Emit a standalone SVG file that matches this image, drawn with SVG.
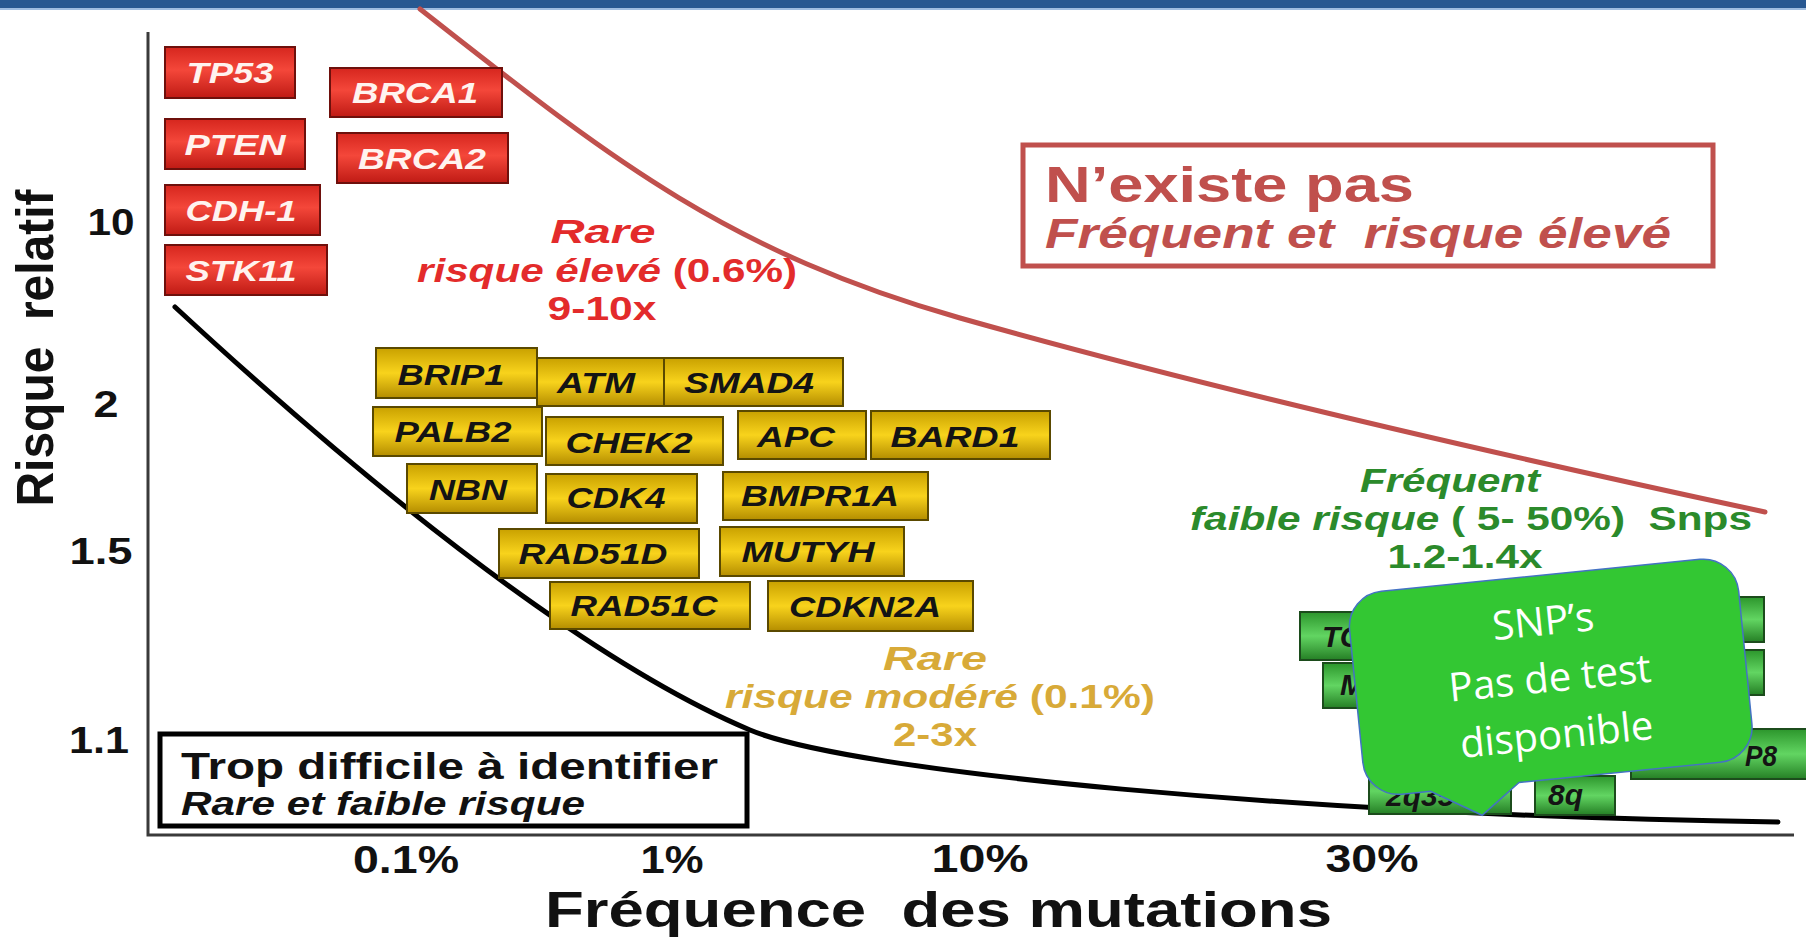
<svg xmlns="http://www.w3.org/2000/svg" width="1806" height="937" viewBox="0 0 1806 937">
  <defs>
    <linearGradient id="gRed" x1="0" y1="0" x2="0" y2="1">
      <stop offset="0" stop-color="#d6261e"/>
      <stop offset="0.45" stop-color="#f4473a"/>
      <stop offset="1" stop-color="#bf1a14"/>
    </linearGradient>
    <linearGradient id="gGold" x1="0" y1="0" x2="0" y2="1">
      <stop offset="0" stop-color="#c9a100"/>
      <stop offset="0.5" stop-color="#f8d31c"/>
      <stop offset="1" stop-color="#b48d00"/>
    </linearGradient>
    <linearGradient id="gGreen" x1="0" y1="0" x2="0" y2="1">
      <stop offset="0" stop-color="#2c962c"/>
      <stop offset="0.5" stop-color="#62d562"/>
      <stop offset="1" stop-color="#257f25"/>
    </linearGradient>
    <style>
      text { font-family: "Liberation Sans", Arial, sans-serif; font-weight: bold; }
      .gene text { font-size: 30px; font-style: italic; text-anchor: middle; }
      .red rect { fill: url(#gRed); stroke: #6e100c; stroke-width: 2; }
      .red text { fill: #fff3ef; }
      .gold rect { fill: url(#gGold); stroke: #5a4900; stroke-width: 2; }
      .gold text { fill: #141414; }
      .green rect { fill: url(#gGreen); stroke: #1c4c1c; stroke-width: 2; }
      .green text { fill: #141414; text-anchor: start; }
      .tick { font-size: 36px; fill: #111; text-anchor: middle; }
      .xtick { font-size: 38px; fill: #111; text-anchor: middle; }
      .zone { font-size: 33px; text-anchor: middle; }
      .it { font-style: italic; }
      .co { font-family: "Open Sans", "Noto Sans", sans-serif; font-weight: normal; font-size: 40px; fill: #ffffff; text-anchor: middle; }
    </style>
  </defs>

  <rect x="0" y="0" width="1806" height="937" fill="#ffffff"/>

  <!-- title bar -->
  <rect x="0" y="0" width="1806" height="8" fill="#285891"/>
  <rect x="0" y="8" width="1806" height="2" fill="#9fbde0"/>

  <!-- axes -->
  <g id="axes">
    <path d="M148,32 V835 H1794" fill="none" stroke="#3a3a3a" stroke-width="3"/>
    <text transform="translate(53,348) rotate(-90)" text-anchor="middle" font-size="52" fill="#111" textLength="317" lengthAdjust="spacingAndGlyphs" xml:space="preserve">Risque  relatif</text>
    <text class="tick" x="111" y="235" textLength="47" lengthAdjust="spacingAndGlyphs">10</text>
    <text class="tick" x="106" y="417" textLength="25" lengthAdjust="spacingAndGlyphs">2</text>
    <text class="tick" x="101" y="564" textLength="63" lengthAdjust="spacingAndGlyphs">1.5</text>
    <text class="tick" x="99" y="753" textLength="60" lengthAdjust="spacingAndGlyphs">1.1</text>
    <text class="xtick" x="406" y="873" textLength="106" lengthAdjust="spacingAndGlyphs">0.1%</text>
    <text class="xtick" x="672" y="873" textLength="63" lengthAdjust="spacingAndGlyphs">1%</text>
    <text class="xtick" x="980" y="872" textLength="97" lengthAdjust="spacingAndGlyphs">10%</text>
    <text class="xtick" x="1372" y="872" textLength="93" lengthAdjust="spacingAndGlyphs">30%</text>
    <text x="545" y="927" font-size="50" fill="#111" textLength="787" lengthAdjust="spacingAndGlyphs" xml:space="preserve">Fréquence  des mutations</text>
  </g>

  <!-- boundary curves -->
  <g id="curves" fill="none" stroke-linecap="round">
    <path id="upper-limit" d="M420,9 C600,150 720,250 960,318 C1200,386 1500,455 1765,512" stroke="#c0504d" stroke-width="5"/>
    <path id="lower-limit" d="M175,307 C470,580 650,688 750,730 C850,772 1300,815 1778,822" stroke="#000000" stroke-width="5"/>
  </g>

  <!-- high-risk genes -->
  <g id="tp53" class="gene red"><rect x="165" y="47" width="130" height="51"/><text x="230" y="83" textLength="87" lengthAdjust="spacingAndGlyphs">TP53</text></g>
  <g id="brca1" class="gene red"><rect x="330" y="68" width="172" height="49"/><text x="415" y="103" textLength="126" lengthAdjust="spacingAndGlyphs">BRCA1</text></g>
  <g id="pten" class="gene red"><rect x="165" y="119" width="140" height="50"/><text x="235" y="155" textLength="101" lengthAdjust="spacingAndGlyphs">PTEN</text></g>
  <g id="brca2" class="gene red"><rect x="337" y="133" width="171" height="50"/><text x="422" y="169" textLength="128" lengthAdjust="spacingAndGlyphs">BRCA2</text></g>
  <g id="cdh1" class="gene red"><rect x="165" y="185" width="155" height="50"/><text x="241" y="221" textLength="111" lengthAdjust="spacingAndGlyphs">CDH-1</text></g>
  <g id="stk11" class="gene red"><rect x="165" y="245" width="162" height="50"/><text x="241" y="281" textLength="111" lengthAdjust="spacingAndGlyphs">STK11</text></g>

  <!-- moderate-risk genes -->
  <g id="brip1" class="gene gold"><rect x="376" y="348" width="161" height="50"/><text x="451" y="385" textLength="107" lengthAdjust="spacingAndGlyphs">BRIP1</text></g>
  <g id="atm" class="gene gold"><rect x="537" y="358" width="127" height="48"/><text x="596" y="393" textLength="78" lengthAdjust="spacingAndGlyphs">ATM</text></g>
  <g id="smad4" class="gene gold"><rect x="664" y="358" width="179" height="48"/><text x="749" y="393" textLength="130" lengthAdjust="spacingAndGlyphs">SMAD4</text></g>
  <g id="palb2" class="gene gold"><rect x="373" y="407" width="169" height="49"/><text x="453" y="442" textLength="117" lengthAdjust="spacingAndGlyphs">PALB2</text></g>
  <g id="chek2" class="gene gold"><rect x="546" y="417" width="177" height="48"/><text x="629" y="453" textLength="127" lengthAdjust="spacingAndGlyphs">CHEK2</text></g>
  <g id="apc" class="gene gold"><rect x="738" y="411" width="128" height="48"/><text x="796" y="447" textLength="78" lengthAdjust="spacingAndGlyphs">APC</text></g>
  <g id="bard1" class="gene gold"><rect x="871" y="411" width="179" height="48"/><text x="955" y="447" textLength="129" lengthAdjust="spacingAndGlyphs">BARD1</text></g>
  <g id="nbn" class="gene gold"><rect x="407" y="464" width="130" height="49"/><text x="468" y="500" textLength="78" lengthAdjust="spacingAndGlyphs">NBN</text></g>
  <g id="cdk4" class="gene gold"><rect x="546" y="474" width="151" height="49"/><text x="616" y="508" textLength="99" lengthAdjust="spacingAndGlyphs">CDK4</text></g>
  <g id="bmpr1a" class="gene gold"><rect x="723" y="472" width="205" height="48"/><text x="820" y="506" textLength="158" lengthAdjust="spacingAndGlyphs">BMPR1A</text></g>
  <g id="rad51d" class="gene gold"><rect x="499" y="529" width="200" height="49"/><text x="593" y="564" textLength="149" lengthAdjust="spacingAndGlyphs">RAD51D</text></g>
  <g id="mutyh" class="gene gold"><rect x="720" y="527" width="184" height="49"/><text x="808" y="562" textLength="133" lengthAdjust="spacingAndGlyphs">MUTYH</text></g>
  <g id="rad51c" class="gene gold"><rect x="550" y="582" width="200" height="47"/><text x="644" y="616" textLength="147" lengthAdjust="spacingAndGlyphs">RAD51C</text></g>
  <g id="cdkn2a" class="gene gold"><rect x="768" y="581" width="205" height="50"/><text x="865" y="617" textLength="152" lengthAdjust="spacingAndGlyphs">CDKN2A</text></g>

  <!-- low-risk loci -->
  <g id="snp-a" class="gene green"><rect x="1300" y="612" width="120" height="48"/><text x="1322" y="647">TO</text></g>
  <g id="snp-b" class="gene green"><rect x="1323" y="663" width="110" height="45"/><text x="1340" y="695">M</text></g>
  <g id="snp-c" class="gene green"><rect x="1650" y="597" width="114" height="45"/></g>
  <g id="snp-d" class="gene green"><rect x="1650" y="650" width="114" height="45"/></g>
  <g id="snp-e" class="gene green"><rect x="1631" y="729" width="180" height="50"/><text x="1745" y="766" textLength="32" lengthAdjust="spacingAndGlyphs">P8</text></g>
  <g id="snp-f" class="gene green"><rect x="1369" y="768" width="142" height="46"/><text x="1386" y="806">2q35</text></g>
  <g id="snp-g" class="gene green"><rect x="1535" y="776" width="80" height="39"/><text x="1548" y="805">8q</text></g>

  <!-- zone labels -->
  <g id="zone-high" class="zone" fill="#e32b2b">
    <text class="it" x="603" y="243" textLength="105" lengthAdjust="spacingAndGlyphs">Rare</text>
    <text x="607" y="282" textLength="380" lengthAdjust="spacingAndGlyphs"><tspan class="it">risque élevé</tspan> (0.6%)</text>
    <text x="602" y="320" textLength="109" lengthAdjust="spacingAndGlyphs">9-10x</text>
  </g>
  <g id="zone-moderate" class="zone" fill="#d8aa38">
    <text class="it" x="935" y="670" textLength="104" lengthAdjust="spacingAndGlyphs">Rare</text>
    <text x="940" y="708" textLength="430" lengthAdjust="spacingAndGlyphs"><tspan class="it">risque modéré</tspan> (0.1%)</text>
    <text x="935" y="746" textLength="84" lengthAdjust="spacingAndGlyphs">2-3x</text>
  </g>
  <g id="zone-frequent" class="zone" fill="#2b8a2b">
    <text class="it" x="1450" y="492" textLength="180" lengthAdjust="spacingAndGlyphs">Fréquent</text>
    <text x="1471" y="530" textLength="562" lengthAdjust="spacingAndGlyphs" xml:space="preserve"><tspan class="it">faible risque</tspan> ( 5- 50%)  Snps</text>
    <text x="1465" y="568" textLength="155" lengthAdjust="spacingAndGlyphs">1.2-1.4x</text>
  </g>

  <!-- impossible zone -->
  <g id="zone-absent">
    <rect x="1023" y="145" width="690" height="121" fill="none" stroke="#c0504d" stroke-width="5"/>
    <text x="1045" y="202" font-size="50" fill="#c0504d" textLength="369" lengthAdjust="spacingAndGlyphs">N’existe pas</text>
    <text class="it" x="1045" y="248" font-size="42" fill="#c0504d" textLength="626" lengthAdjust="spacingAndGlyphs" xml:space="preserve">Fréquent et  risque élevé</text>
  </g>

  <!-- undetectable zone -->
  <g id="zone-undetectable">
    <rect x="160" y="734" width="587" height="92" fill="#ffffff" stroke="#000000" stroke-width="5"/>
    <text x="181" y="779" font-size="37" fill="#111" textLength="537" lengthAdjust="spacingAndGlyphs">Trop difficile à identifier</text>
    <text class="it" x="181" y="815" font-size="34" fill="#111" textLength="404" lengthAdjust="spacingAndGlyphs">Rare et faible risque</text>
  </g>

  <!-- callout -->
  <g id="callout" transform="translate(1550.75,676.75) rotate(-5.7)">
    <path d="M-160,-102 H160 A35.5,35.5 0 0 1 195.5,-66.5 V66.5 A35.5,35.5 0 0 1 160,102 H-42 L-82,131 L-131,102 H-160 A35.5,35.5 0 0 1 -195.5,66.5 V-66.5 A35.5,35.5 0 0 1 -160,-102 Z" fill="#33c733" stroke="#4472c4" stroke-width="1.5"/>
    <text class="co" x="-2" y="-42">SNP’s</text>
    <text class="co" x="-1" y="15">Pas de test</text>
    <text class="co" x="0" y="72">disponible</text>
  </g>
</svg>
